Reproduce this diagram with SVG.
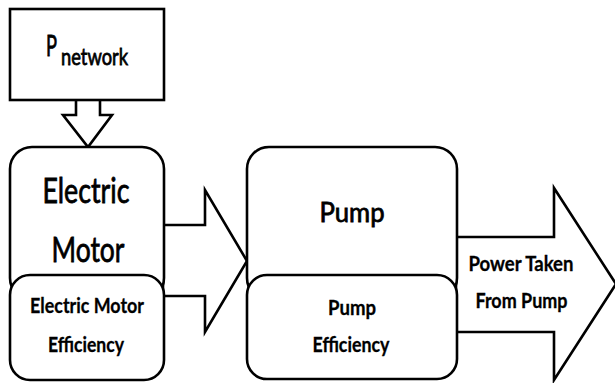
<svg xmlns="http://www.w3.org/2000/svg" width="615" height="383" viewBox="0 0 615 383">
<style>
.box{fill:#fff;stroke:#000;stroke-width:2.6}
.arr{fill:#fff;stroke:#000;stroke-width:2.6;stroke-linejoin:miter}
text{font-family:Lato,"Open Sans","Liberation Sans",sans-serif;fill:#000;text-anchor:middle}
.reg{stroke:#000;stroke-width:0.8}
.big{font-size:35px}
.med{font-size:27px}
.sm{font-size:21px;font-weight:bold;stroke:#000;stroke-width:0.3}
.lbl{font-size:20px;font-weight:bold;stroke:#000;stroke-width:0.3}
</style>
<rect width="615" height="383" fill="#fff"/>
<g id="connectors">
<polygon class="arr" points="76,99 76,115 63,115 88,147 112,115 100,115 100,99"/>
<polygon class="arr" points="163,225 205,225 205,190 247,261 205,332 205,296 163,296"/>
<polygon class="arr" points="456,237 554,237 554,188 616,284 554,380 554,332 456,332"/>
</g>
<g id="p-network">
<rect class="box" x="10" y="9" width="154" height="91"/>
<text class="reg" x="46" y="56" style="text-anchor:start;font-size:28px"><tspan textLength="11" lengthAdjust="spacingAndGlyphs">P</tspan><tspan x="61" y="65" style="font-size:24px" textLength="67" lengthAdjust="spacingAndGlyphs">network</tspan></text>
</g>
<g id="electric-motor">
<rect class="box" x="10" y="147" width="154" height="153" rx="22"/>
<text class="big reg" x="86" y="203" textLength="87" lengthAdjust="spacingAndGlyphs">Electric</text>
<text class="big reg" x="88" y="262" textLength="73" lengthAdjust="spacingAndGlyphs">Motor</text>
</g>
<g id="electric-motor-efficiency">
<rect class="box" x="10" y="275" width="154" height="105" rx="20"/>
<text class="sm" x="87" y="313" textLength="114" lengthAdjust="spacingAndGlyphs">Electric Motor</text>
<text class="sm" x="86" y="352" textLength="76" lengthAdjust="spacingAndGlyphs">Efficiency</text>
</g>
<g id="pump">
<rect class="box" x="247" y="147" width="210" height="153" rx="22"/>
<text class="med reg" x="352" y="222" textLength="65" lengthAdjust="spacingAndGlyphs">Pump</text>
</g>
<g id="pump-efficiency">
<rect class="box" x="247" y="275" width="210" height="104" rx="20"/>
<text class="sm" x="352" y="315" textLength="48" lengthAdjust="spacingAndGlyphs">Pump</text>
<text class="sm" x="351" y="352" textLength="77" lengthAdjust="spacingAndGlyphs">Efficiency</text>
</g>
<g id="power-taken-label">
<text class="lbl" x="521" y="271" textLength="105" lengthAdjust="spacingAndGlyphs">Power Taken</text>
<text class="lbl" x="521.5" y="308" textLength="92" lengthAdjust="spacingAndGlyphs">From Pump</text>
</g>
</svg>
